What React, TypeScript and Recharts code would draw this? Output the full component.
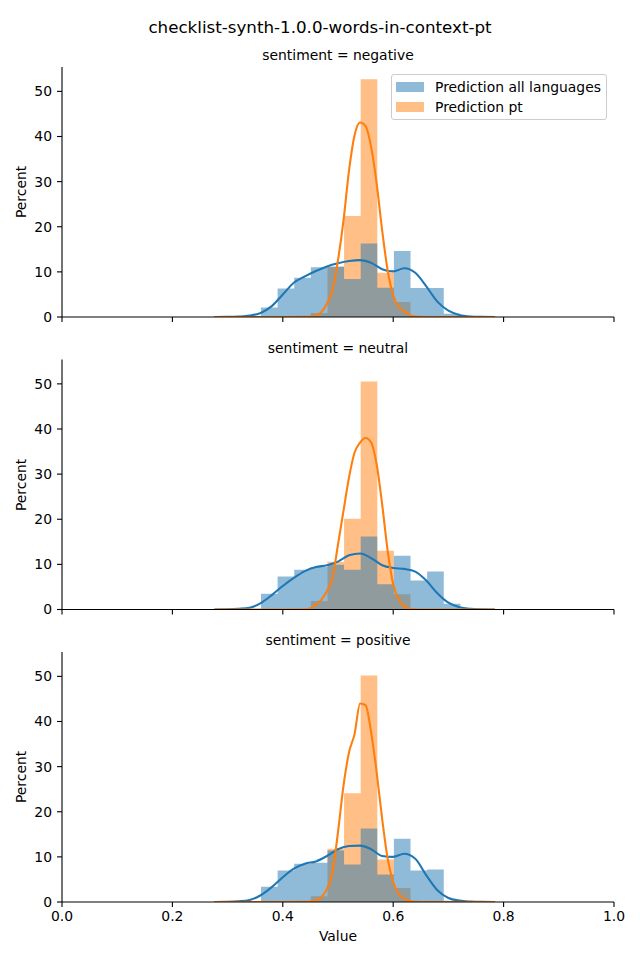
import React from 'react';
import { ComposedChart, Area, Line, XAxis, YAxis } from 'recharts';

const FONT = '"DejaVu Sans", sans-serif';
const BLUE = '#1f77b4';
const ORANGE = '#ff7f0e';

const TITLE = 'checklist-synth-1.0.0-words-in-context-pt';
const PANEL_TITLES = ['sentiment = negative', 'sentiment = neutral', 'sentiment = positive'];
const SERIES_NAMES = ['Prediction all languages', 'Prediction pt'];

const X_TICKS = [0, 0.2, 0.4, 0.6, 0.8, 1.0];
const Y_TICKS = [0, 10, 20, 30, 40, 50];

// histogram bin edges (shared by both series)
const BIN_EDGES = [0.3605, 0.3906, 0.4207, 0.4508, 0.4809, 0.511, 0.5411, 0.5712, 0.6013, 0.6314, 0.6615, 0.6916, 0.7217];

const HIST_ALL_NEG = [2.1, 6.3, 8.7, 11.0, 11.2, 8.4, 16.3, 6.5, 14.6, 6.4, 6.4, 0.7];
const HIST_PT_NEG = [0, 0, 0, 0.9, 11.1, 22.4, 52.7, 9.8, 3.3, 0, 0, 0];
const HIST_ALL_NEU = [3.5, 7.3, 8.8, 9.4, 9.9, 8.8, 16.2, 5.6, 11.9, 6.4, 8.4, 1.3];
const HIST_PT_NEU = [0, 0, 0, 1.9, 10.6, 20.1, 50.5, 13.0, 3.4, 0, 0, 0];
const HIST_ALL_POS = [3.4, 7.0, 8.5, 8.7, 11.4, 8.3, 16.3, 6.1, 14.0, 7.0, 7.2, 0.3];
const HIST_PT_POS = [0, 0, 0, 1.3, 11.8, 24.1, 50.2, 9.4, 3.1, 0, 0, 0];

// KDE curves
const KDE_X_ALL = [0.276, 0.30, 0.32, 0.34, 0.36, 0.38, 0.40, 0.42, 0.44, 0.46, 0.48, 0.50, 0.52, 0.54, 0.56, 0.58, 0.60, 0.62, 0.64, 0.66, 0.68, 0.70, 0.72, 0.74, 0.76, 0.784];
const KDE_ALL_NEG = [0, 0.02, 0.1, 0.3, 0.9, 2.4, 5.0, 7.6, 9.0, 10.2, 11.2, 11.9, 12.4, 12.6, 12.0, 10.6, 10.1, 10.8, 9.8, 6.8, 3.4, 1.4, 0.45, 0.12, 0.03, 0];
const KDE_ALL_NEU = [0, 0.03, 0.15, 0.4, 1.4, 3.2, 5.2, 7.0, 8.5, 9.4, 9.8, 10.6, 12.0, 12.4, 11.4, 9.8, 9.2, 9.0, 8.4, 6.4, 3.6, 1.5, 0.5, 0.15, 0.04, 0];
const KDE_ALL_POS = [0, 0.03, 0.15, 0.45, 1.5, 3.3, 5.5, 7.4, 8.5, 9.0, 10.2, 11.7, 12.4, 12.5, 11.7, 10.2, 10.0, 10.7, 9.6, 5.9, 2.6, 0.9, 0.3, 0.1, 0.02, 0];

const KDE_X_PT = [0.276, 0.40, 0.44, 0.45, 0.46, 0.47, 0.48, 0.49, 0.50, 0.51, 0.52, 0.53, 0.54, 0.55, 0.56, 0.57, 0.58, 0.59, 0.60, 0.61, 0.62, 0.63, 0.64, 0.66, 0.784];
const KDE_PT_NEG = [0, 0, 0.02, 0.1, 0.3, 1.1, 3.0, 5.9, 12.6, 21.4, 32.5, 40.3, 43.1, 42.3, 37.7, 29.6, 19.2, 10.3, 4.8, 2.2, 1.3, 0.4, 0.1, 0, 0];
const KDE_PT_NEU = [0, 0, 0.02, 0.3, 1.1, 2.2, 4.1, 7.0, 14.4, 21.9, 29.3, 34.8, 37.0, 38.0, 37.0, 32.2, 23.3, 13.0, 5.6, 2.2, 0.7, 0.2, 0.05, 0, 0];
const KDE_PT_POS = [0, 0, 0.02, 0.1, 0.4, 1.1, 2.9, 6.6, 15.5, 25.8, 33.2, 37.2, 44.0, 43.6, 37.6, 28.8, 18.4, 9.6, 4.4, 1.8, 0.7, 0.2, 0.05, 0, 0];

const histRows = (vals: number[]) =>
  BIN_EDGES.map((e, i) => ({ x: e, y: vals[Math.min(i, vals.length - 1)] }));
const kdeRows = (xs: number[], ys: number[]) => xs.map((x, i) => ({ x, y: ys[i] }));

const PANELS = [
  { top: 67, bottom: 317, histAll: HIST_ALL_NEG, histPt: HIST_PT_NEG, kdeAll: KDE_ALL_NEG, kdePt: KDE_PT_NEG },
  { top: 359.5, bottom: 609.5, histAll: HIST_ALL_NEU, histPt: HIST_PT_NEU, kdeAll: KDE_ALL_NEU, kdePt: KDE_PT_NEU },
  { top: 652, bottom: 902, histAll: HIST_ALL_POS, histPt: HIST_PT_POS, kdeAll: KDE_ALL_POS, kdePt: KDE_PT_POS },
];

const W = 640;
const H = 960;
const PLOT_LEFT = 62;
const PLOT_RIGHT = 614;

function Panel({ p, showLabels }: { p: typeof PANELS[number]; showLabels: boolean }) {
  const tickStyle = { fill: '#000', fontSize: 13.9, fontFamily: FONT };
  return (
    <div style={{ position: 'absolute', left: 0, top: 0 }}>
      <ComposedChart
        width={W}
        height={H}
        margin={{ top: p.top, right: W - PLOT_RIGHT, bottom: H - p.bottom - 30, left: 0 }}
      >
        <XAxis
          dataKey="x"
          type="number"
          domain={[0, 1]}
          ticks={X_TICKS}
          allowDataOverflow
          height={30}
          tickSize={5}
          tickMargin={4}
          axisLine={{ stroke: '#000', strokeWidth: 1.1 }}
          tickLine={{ stroke: '#000', strokeWidth: 1.1 }}
          tick={tickStyle}
          tickFormatter={showLabels ? (v: number) => v.toFixed(1) : () => ''}
          interval={0}
        />
        <YAxis
          type="number"
          domain={[0, 55.4]}
          ticks={Y_TICKS}
          allowDataOverflow
          width={PLOT_LEFT}
          tickSize={5}
          tickMargin={5}
          axisLine={{ stroke: '#000', strokeWidth: 1.1 }}
          tickLine={{ stroke: '#000', strokeWidth: 1.1 }}
          tick={tickStyle}
          interval={0}
        />
        <Area
          data={histRows(p.histPt)}
          dataKey="y"
          type="stepAfter"
          stroke="none"
          fill={ORANGE}
          fillOpacity={0.5}
          isAnimationActive={false}
          dot={false}
          activeDot={false}
        />
        <Area
          data={histRows(p.histAll)}
          dataKey="y"
          type="stepAfter"
          stroke="none"
          fill={BLUE}
          fillOpacity={0.5}
          isAnimationActive={false}
          dot={false}
          activeDot={false}
        />
        <Line
          data={kdeRows(KDE_X_ALL, p.kdeAll)}
          dataKey="y"
          type="monotone"
          stroke={BLUE}
          strokeWidth={2.1}
          dot={false}
          activeDot={false}
          isAnimationActive={false}
        />
        <Line
          data={kdeRows(KDE_X_PT, p.kdePt)}
          dataKey="y"
          type="monotone"
          stroke={ORANGE}
          strokeWidth={2.1}
          dot={false}
          activeDot={false}
          isAnimationActive={false}
        />
      </ComposedChart>
    </div>
  );
}

const textDiv = (text: string, cx: number, cy: number, size: number, rotate = false) => (
  <div
    key={text + cy}
    style={{
      position: 'absolute',
      left: cx - 200,
      top: cy - size / 2 - 1,
      width: 400,
      textAlign: 'center',
      fontSize: size,
      lineHeight: `${size + 2}px`,
      fontFamily: FONT,
      color: '#000',
      transform: rotate ? 'rotate(-90deg)' : undefined,
      whiteSpace: 'nowrap',
    }}
  >
    {text}
  </div>
);

export default function App() {
  const cx = (PLOT_LEFT + PLOT_RIGHT) / 2;
  return (
    <div style={{ position: 'absolute', left: 0, top: 0, width: W, height: H, background: '#fff', fontFamily: FONT }}>
      {PANELS.map((p, i) => (
        <Panel key={i} p={p} showLabels={i === PANELS.length - 1} />
      ))}
      {textDiv(TITLE, 320, 27, 16.7)}
      {PANELS.map((p, i) => textDiv(PANEL_TITLES[i], cx, p.top - 11, 13.9))}
      {PANELS.map((p) => textDiv('Percent', 22, (p.top + p.bottom) / 2, 13.9, true))}
      {textDiv('Value', cx, 937, 13.9)}
      <div
        style={{
          position: 'absolute',
          left: 391,
          top: 74,
          width: 214,
          height: 44,
          border: '1px solid #cccccc',
          borderRadius: 3,
          background: 'rgba(255,255,255,0.8)',
          fontFamily: FONT,
          fontSize: 13.9,
        }}
      >
        {SERIES_NAMES.map((name, i) => (
          <div key={name} style={{ position: 'absolute', left: 4, top: 4.5 + i * 20.5, height: 14, display: 'flex', alignItems: 'center', whiteSpace: 'nowrap' }}>
            <span
              style={{
                display: 'inline-block',
                width: 28,
                height: 10,
                background: i === 0 ? BLUE : ORANGE,
                opacity: 0.5,
                marginRight: 11,
              }}
            />
            <span style={{ color: '#000' }}>{name}</span>
          </div>
        ))}
      </div>
    </div>
  );
}
